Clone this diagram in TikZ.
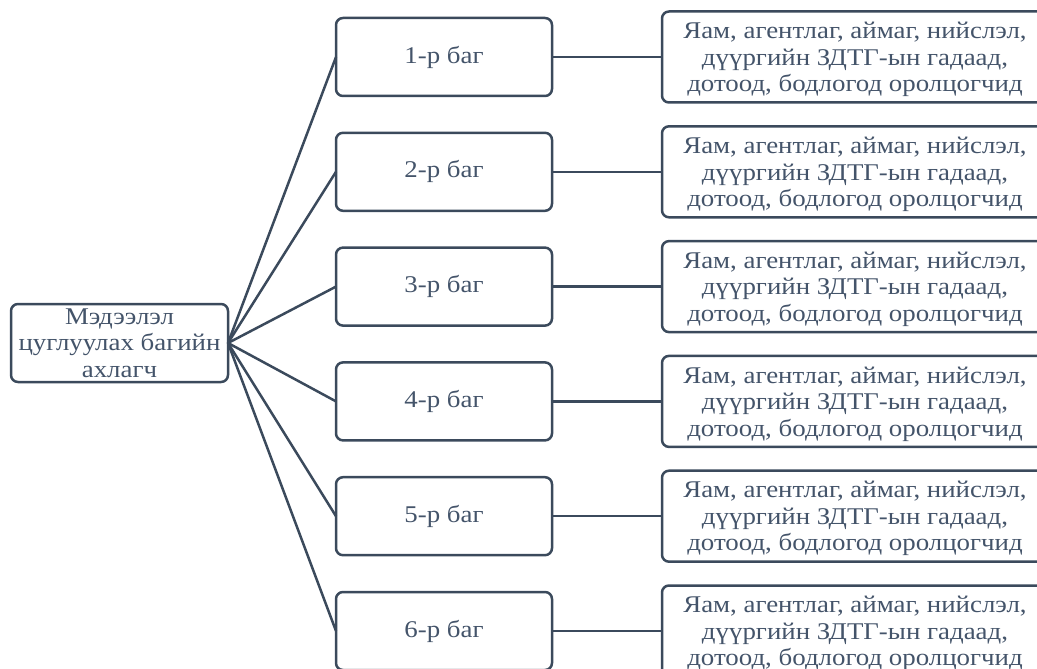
\documentclass[tikz,border=0pt]{standalone}
\usepackage{fontspec}
\setmainfont[FakeStretch=1.12]{Liberation Serif}
\usetikzlibrary{positioning}
\definecolor{boxline}{HTML}{3B4A5C}
\definecolor{boxtext}{HTML}{44546A}

\begin{document}
\begin{tikzpicture}[x=1pt, y=-1pt, node distance=36.8pt and 110pt,
box/.style={rectangle, rounded corners=7pt, draw=boxline, line width=2.5pt, fill=white, text=boxtext, align=center, inner sep=0pt, outer sep=0pt, font=\fontsize{24}{26.5}\selectfont},
lead/.style={box, minimum width=217pt, minimum height=78pt},
team/.style={box, minimum width=216pt, minimum height=78pt},
member/.style={box, minimum width=386pt, minimum height=91pt, text depth=0pt},
link/.style={draw=boxline, line width=2.5pt}]
    \useasboundingbox (0,0) rectangle (1037,669);

    \node[lead] (lead) at (119.5,343) {Мэдээлэл\\цуглуулах багийн\\ахлагч};

    \node[team] (team1) at (444,57) {1-р баг};
    \node[team, below=of team1] (team2) {2-р баг};
    \node[team, below=of team2] (team3) {3-р баг};
    \node[team, below=of team3] (team4) {4-р баг};
    \node[team, below=of team4] (team5) {5-р баг};
    \node[team, below=of team5] (team6) {6-р баг};

    \node[member, right=of team1] (member1) {Яам, агентлаг, аймаг, нийслэл,\\дүүргийн ЗДТГ-ын гадаад,\\дотоод, бодлогод оролцогчид};
    \node[member, right=of team2] (member2) {Яам, агентлаг, аймаг, нийслэл,\\дүүргийн ЗДТГ-ын гадаад,\\дотоод, бодлогод оролцогчид};
    \node[member, right=of team3] (member3) {Яам, агентлаг, аймаг, нийслэл,\\дүүргийн ЗДТГ-ын гадаад,\\дотоод, бодлогод оролцогчид};
    \node[member, right=of team4] (member4) {Яам, агентлаг, аймаг, нийслэл,\\дүүргийн ЗДТГ-ын гадаад,\\дотоод, бодлогод оролцогчид};
    \node[member, right=of team5] (member5) {Яам, агентлаг, аймаг, нийслэл,\\дүүргийн ЗДТГ-ын гадаад,\\дотоод, бодлогод оролцогчид};
    \node[member, right=of team6] (member6) {Яам, агентлаг, аймаг, нийслэл,\\дүүргийн ЗДТГ-ын гадаад,\\дотоод, бодлогод оролцогчид};

    \draw[link] (lead.east) -- (team1.west);
    \draw[link] (lead.east) -- (team2.west);
    \draw[link] (lead.east) -- (team3.west);
    \draw[link] (lead.east) -- (team4.west);
    \draw[link] (lead.east) -- (team5.west);
    \draw[link] (lead.east) -- (team6.west);

    \draw[link] (team1.east) -- (member1.west);
    \draw[link] (team2.east) -- (member2.west);
    \draw[link] (team3.east) -- (member3.west);
    \draw[link] (team4.east) -- (member4.west);
    \draw[link] (team5.east) -- (member5.west);
    \draw[link] (team6.east) -- (member6.west);
\end{tikzpicture}
\end{document}
